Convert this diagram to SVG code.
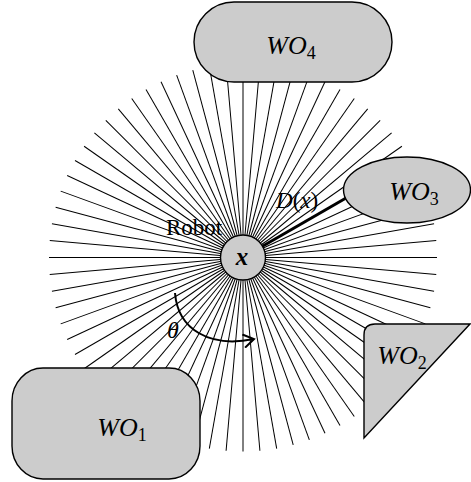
<svg xmlns="http://www.w3.org/2000/svg" xmlns:xlink="http://www.w3.org/1999/xlink" width="471" height="482" viewBox="0 0 471 482">
<style>
.ray{stroke:#000;stroke-width:1;}
.obs{fill:#cccccc;stroke:#000;stroke-width:1.4;}
.lbl{font-family:"Liberation Serif","Times New Roman",serif;fill:#000;}
.it{font-style:italic;}
</style>
<defs>
<line id="r" class="ray" x1="0" y1="0" x2="194" y2="0"/>
<marker id="arr" viewBox="0 0 13 15" refX="11" refY="7.5" markerWidth="13" markerHeight="15" markerUnits="userSpaceOnUse" orient="auto">
<path d="M0.5,0.8 L11,7.5 L0.5,14.2" fill="none" stroke="#000" stroke-width="2"/>
</marker>
</defs>
<rect width="471" height="482" fill="#fff"/>
<g id="connectors">
<g id="rays" transform="translate(243 257.5)">
<use xlink:href="#r" transform="rotate(0)"/><use xlink:href="#r" transform="rotate(5)"/><use xlink:href="#r" transform="rotate(10)"/><use xlink:href="#r" transform="rotate(15)"/><use xlink:href="#r" transform="rotate(20)"/><use xlink:href="#r" transform="rotate(25)"/><use xlink:href="#r" transform="rotate(30)"/><use xlink:href="#r" transform="rotate(35)"/><use xlink:href="#r" transform="rotate(40)"/><use xlink:href="#r" transform="rotate(45)"/><use xlink:href="#r" transform="rotate(50)"/><use xlink:href="#r" transform="rotate(55)"/>
<use xlink:href="#r" transform="rotate(60)"/><use xlink:href="#r" transform="rotate(65)"/><use xlink:href="#r" transform="rotate(70)"/><use xlink:href="#r" transform="rotate(75)"/><use xlink:href="#r" transform="rotate(80)"/><use xlink:href="#r" transform="rotate(85)"/><use xlink:href="#r" transform="rotate(90)"/><use xlink:href="#r" transform="rotate(95)"/><use xlink:href="#r" transform="rotate(100)"/><use xlink:href="#r" transform="rotate(105)"/><use xlink:href="#r" transform="rotate(110)"/><use xlink:href="#r" transform="rotate(115)"/>
<use xlink:href="#r" transform="rotate(120)"/><use xlink:href="#r" transform="rotate(125)"/><use xlink:href="#r" transform="rotate(130)"/><use xlink:href="#r" transform="rotate(135)"/><use xlink:href="#r" transform="rotate(140)"/><use xlink:href="#r" transform="rotate(145)"/><use xlink:href="#r" transform="rotate(150)"/><use xlink:href="#r" transform="rotate(155)"/><use xlink:href="#r" transform="rotate(160)"/><use xlink:href="#r" transform="rotate(165)"/><use xlink:href="#r" transform="rotate(170)"/><use xlink:href="#r" transform="rotate(175)"/>
<use xlink:href="#r" transform="rotate(180)"/><use xlink:href="#r" transform="rotate(185)"/><use xlink:href="#r" transform="rotate(190)"/><use xlink:href="#r" transform="rotate(195)"/><use xlink:href="#r" transform="rotate(200)"/><use xlink:href="#r" transform="rotate(205)"/><use xlink:href="#r" transform="rotate(210)"/><use xlink:href="#r" transform="rotate(215)"/><use xlink:href="#r" transform="rotate(220)"/><use xlink:href="#r" transform="rotate(225)"/><use xlink:href="#r" transform="rotate(230)"/><use xlink:href="#r" transform="rotate(235)"/>
<use xlink:href="#r" transform="rotate(240)"/><use xlink:href="#r" transform="rotate(245)"/><use xlink:href="#r" transform="rotate(250)"/><use xlink:href="#r" transform="rotate(255)"/><use xlink:href="#r" transform="rotate(260)"/><use xlink:href="#r" transform="rotate(265)"/><use xlink:href="#r" transform="rotate(270)"/><use xlink:href="#r" transform="rotate(275)"/><use xlink:href="#r" transform="rotate(280)"/><use xlink:href="#r" transform="rotate(285)"/><use xlink:href="#r" transform="rotate(290)"/><use xlink:href="#r" transform="rotate(295)"/>
<use xlink:href="#r" transform="rotate(300)"/><use xlink:href="#r" transform="rotate(305)"/><use xlink:href="#r" transform="rotate(310)"/><use xlink:href="#r" transform="rotate(315)"/><use xlink:href="#r" transform="rotate(320)"/><use xlink:href="#r" transform="rotate(325)"/><use xlink:href="#r" transform="rotate(330)"/><use xlink:href="#r" transform="rotate(335)"/><use xlink:href="#r" transform="rotate(340)"/><use xlink:href="#r" transform="rotate(345)"/><use xlink:href="#r" transform="rotate(350)"/><use xlink:href="#r" transform="rotate(355)"/>
<line x1="0" y1="0" x2="130" y2="0" stroke="#000" stroke-width="3" transform="rotate(-30)"/>
</g>
<path id="theta-arc" d="M175,293 C178,330 210,348 254,339" fill="none" stroke="#000" stroke-width="2" marker-end="url(#arr)"/>
</g>
<g id="wo4">
<rect class="obs" x="194" y="2" width="198" height="80" rx="40" ry="40"/>
<text class="lbl it" x="291" y="54" font-size="26" text-anchor="middle">WO<tspan font-size="18" font-style="normal" dy="5">4</tspan></text>
</g>
<g id="wo3">
<ellipse class="obs" cx="407" cy="190" rx="63.5" ry="33"/>
<text class="lbl it" x="414" y="200" font-size="26" text-anchor="middle">WO<tspan font-size="18" font-style="normal" dy="5">3</tspan></text>
</g>
<g id="wo2">
<path class="obs" d="M375,324 L470,324 L364,438 L364,335 Q364,324 375,324 Z"/>
<text class="lbl it" x="402" y="364" font-size="26" text-anchor="middle">WO<tspan font-size="18" font-style="normal" dy="5">2</tspan></text>
</g>
<g id="wo1">
<rect class="obs" x="12" y="368" width="188" height="111" rx="31" ry="33"/>
<text class="lbl it" x="122" y="436" font-size="26" text-anchor="middle">WO<tspan font-size="18" font-style="normal" dy="5">1</tspan></text>
</g>
<g id="robot">
<circle class="obs" cx="243" cy="257.5" r="22.5" stroke-width="2"/>
<text class="lbl it" x="242" y="265" font-size="25" font-weight="bold" text-anchor="middle">x</text>
<text class="lbl" x="166" y="235" font-size="23">Robot</text>
</g>
<g id="labels">
<text class="lbl" x="276" y="208" font-size="23"><tspan font-style="italic">D</tspan>(<tspan font-style="italic">x</tspan>)</text>
<text class="lbl it" x="173" y="338" font-size="24" text-anchor="middle">θ</text>
</g>
</svg>
